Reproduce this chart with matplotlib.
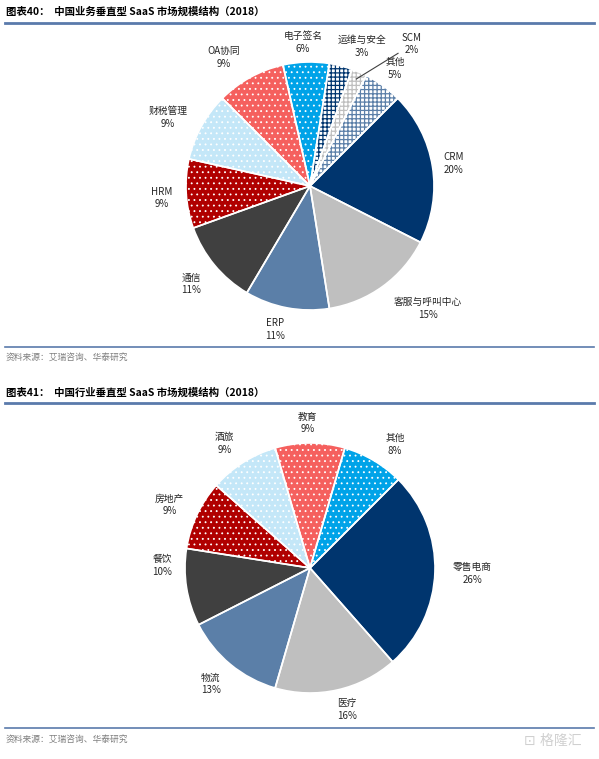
import numpy as np
import matplotlib.pyplot as plt

plt.rcParams['font.family'] = ['Noto Sans CJK SC', 'DejaVu Sans']
plt.rcParams['hatch.linewidth'] = 0.6

# ---- data ----
names1 = ['CRM', '客服与呼叫中心', 'ERP', '通信', 'HRM', '财税管理', 'OA协同',
          '电子签名', '运维与安全', 'SCM', '其他']
share1 = [20, 15, 11, 11, 9, 9, 9, 6, 3, 2, 5]

names2 = ['零售电商', '医疗', '物流', '餐饮', '房地产', '酒旅', '教育', '其他']
share2 = [26, 16, 13, 10, 9, 9, 9, 8]

title1 = '图表40：  中国业务垂直型 SaaS 市场规模结构（2018）'
title2 = '图表41：  中国行业垂直型 SaaS 市场规模结构（2018）'
source = '资料来源：艾瑞咨询、华泰研究'

# ---- styles ----
NAVY = '#00356E'
LGRAY = '#BFBFBF'
STEEL = '#5B7FA8'
DGRAY = '#404040'
DRED = '#B00000'
LBLUE = '#C4E7F8'
SALMON = '#F5605E'
BBLUE = '#00A3E8'
RULE = '#5A7AAB'
TXT = '#262626'

# (face, hatch, hatch colour)
style1 = [(NAVY, None, NAVY), (LGRAY, None, LGRAY), (STEEL, None, STEEL),
          (DGRAY, None, DGRAY), (DRED, '...', 'white'), (LBLUE, '...', 'white'),
          (SALMON, '...', 'white'), (BBLUE, '...', 'white'),
          ('white', '++++', NAVY), ('white', '++++', LGRAY), ('white', '++++', STEEL)]
style2 = [(NAVY, None, NAVY), (LGRAY, None, LGRAY), (STEEL, None, STEEL),
          (DGRAY, None, DGRAY), (DRED, '...', 'white'), (LBLUE, '...', 'white'),
          (SALMON, '...', 'white'), (BBLUE, '...', 'white')]

# label distance (radius units) and angle shift (deg, clockwise); None = own label
dist1 = [1.17, 1.37, 1.19, 1.24, 1.20, 1.27, 1.25, 1.16, 1.20, None, 1.17]
shift1 = [0, -8, 3, 0, -1, -3, -5, -1, 6, 0, 0]
dist2 = [1.30, 1.17, 1.22, 1.18, 1.23, 1.21, 1.16, 1.20]
shift2 = [0, -2, 1, 10, -1, -2, -1, 4]

W, H = 599, 759
fig = plt.figure(figsize=(W / 100, H / 100), dpi=100)


def px_axes(cx, cy, r):
    return fig.add_axes([(cx - r) / W, (H - cy - r) / H, 2 * r / W, 2 * r / H])


def draw_pie(ax, names, shares, styles, dists, shifts, start=45):
    wedges, _ = ax.pie(shares, startangle=start, counterclock=False, radius=1,
                       wedgeprops=dict(linewidth=0))
    for w, (fc, hatch, hc) in zip(wedges, styles):
        w.set_facecolor(fc)
        w.set_edgecolor(hc)
        if hatch:
            w.set_hatch(hatch)
            if '+' in hatch and hasattr(w, 'set_hatch_linewidth'):
                w.set_hatch_linewidth(0.9)
    ax.pie(shares, startangle=start, counterclock=False, radius=1,
           wedgeprops=dict(facecolor='none', edgecolor='white', linewidth=1.2))
    for w, name, s, d, sh in zip(wedges, names, shares, dists, shifts):
        if d is None:
            continue
        mid = np.deg2rad((w.theta1 + w.theta2) / 2 - sh)
        ax.text(d * np.cos(mid), d * np.sin(mid), f'{name}\n{s}%',
                ha='center', va='center', fontsize=7, color=TXT,
                linespacing=1.35)
    ax.set_xlim(-1, 1)
    ax.set_ylim(-1, 1)
    ax.axis('off')
    return wedges


ax1 = px_axes(310, 186, 124)
w1 = draw_pie(ax1, names1, share1, style1, dist1, shift1)

# SCM label with leader line
scm = w1[9]
mid = np.deg2rad((scm.theta1 + scm.theta2) / 2)
ax1.text(0.82, 1.145, f'{names1[9]}\n{share1[9]}%', ha='center', va='center',
         fontsize=7, color=TXT, linespacing=1.35)
ax1.plot([0.71, 0.94 * np.cos(mid)], [1.07, 0.94 * np.sin(mid)],
         color='#404040', lw=0.8, clip_on=False)

ax2 = px_axes(310, 568, 125)
draw_pie(ax2, names2, share2, style2, dist2, shift2)


# ---- titles, rules, source ----
def hline(y, lw):
    fig.add_artist(plt.Line2D([5 / W, 594 / W], [1 - y / H] * 2, color=RULE, lw=lw))


def ftext(x, y, s, **kw):
    fig.text(x / W, 1 - y / H, s, va='center', ha='left', **kw)


ftext(6, 12, title1, fontsize=7.5, fontweight='bold', color='black')
hline(22.5, 2.0)
hline(347, 1.2)
ftext(6, 357, source, fontsize=6.3, color='#7F7F7F')

ftext(6, 393, title2, fontsize=7.5, fontweight='bold', color='black')
hline(402.5, 2.0)
hline(728, 1.2)
ftext(6, 739, source, fontsize=6.3, color='#7F7F7F')

ftext(524, 741, '⊡ 格隆汇', fontsize=10, color='#D0D0D0',
      family=['DejaVu Sans', 'Noto Sans CJK SC'])

fig.savefig('out.png', dpi=100)
